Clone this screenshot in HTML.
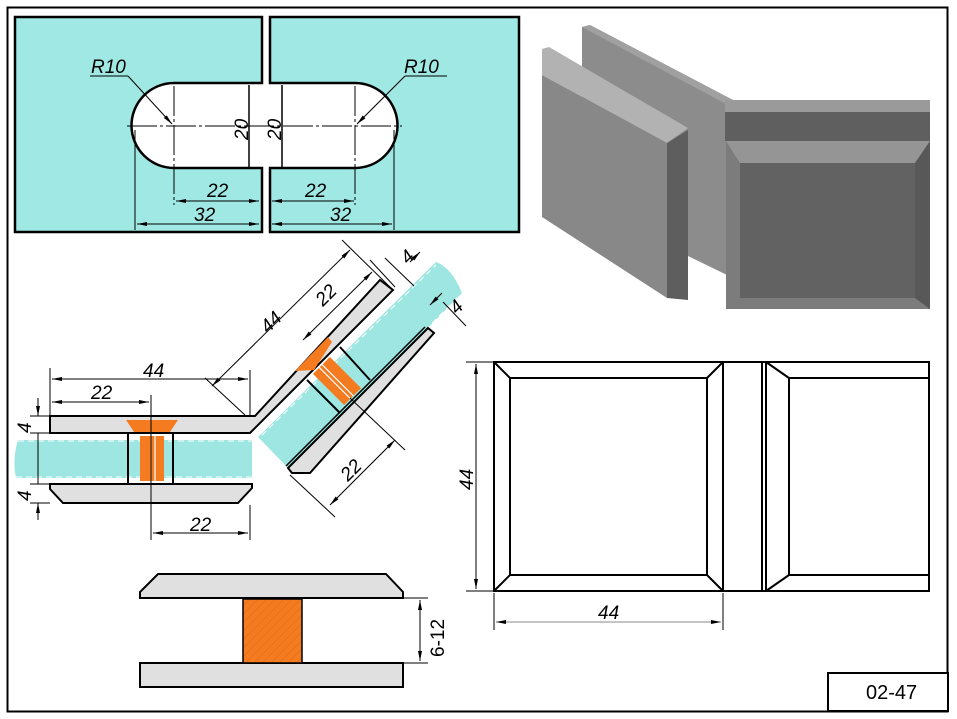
<!DOCTYPE html>
<html><head><meta charset="utf-8"><style>
html,body{margin:0;padding:0;background:#fff;}
svg{display:block;}
text{font-family:"Liberation Sans",Arial,sans-serif;fill:#000;}
</style></head><body>
<svg width="957" height="719" viewBox="0 0 957 719" xmlns="http://www.w3.org/2000/svg">
<defs>
<marker id="a" viewBox="0 0 10 4" refX="10" refY="2" markerWidth="10" markerHeight="4" orient="auto-start-reverse" markerUnits="userSpaceOnUse"><path d="M0,0 L10,2 L0,4z" fill="#000"/></marker>
<pattern id="h" width="6" height="6" patternUnits="userSpaceOnUse" patternTransform="rotate(45)"><rect width="6" height="6" fill="#f47b20"/><line x1="0" y1="0" x2="0" y2="6" stroke="#d86a18" stroke-width="1"/></pattern>
</defs>
<rect x="0" y="0" width="957" height="719" fill="#fff"/>
<rect x="7.5" y="7.5" width="940" height="704" fill="none" stroke="#000" stroke-width="2"/>

<!-- Top panels -->
<path d="M15,17 H262 V83 H174 A42.5,42.5 0 0 0 174,168 H262 V232 H15Z" fill="#a0e8e3" stroke="#000" stroke-width="2.5"/>
<path d="M270,17 H519 V232 H270 V168 H355 A42.5,42.5 0 0 0 355,83 H270Z" fill="#a0e8e3" stroke="#000" stroke-width="2.5"/>
<g stroke="#000" stroke-width="1" fill="none">
<line x1="127" y1="126" x2="402" y2="126" stroke-dasharray="30,3,3,3"/>
<line x1="174" y1="86" x2="174" y2="205" stroke-dasharray="30,3,3,3"/>
<line x1="355" y1="86" x2="355" y2="205" stroke-dasharray="30,3,3,3"/>
<line x1="249" y1="85" x2="249" y2="167" stroke-width="1.5"/>
<line x1="282" y1="85" x2="282" y2="167" stroke-width="1.5"/>
<line x1="135" y1="130" x2="135" y2="230"/>
<line x1="394" y1="130" x2="394" y2="230"/>
<line x1="176" y1="201" x2="259" y2="201" marker-start="url(#a)" marker-end="url(#a)"/>
<line x1="272" y1="201" x2="354" y2="201" marker-start="url(#a)" marker-end="url(#a)"/>
<line x1="137" y1="224" x2="259" y2="224" marker-start="url(#a)" marker-end="url(#a)"/>
<line x1="272" y1="224" x2="392" y2="224" marker-start="url(#a)" marker-end="url(#a)"/>
<line x1="90" y1="76" x2="128" y2="76"/><line x1="128" y1="76" x2="172" y2="124" marker-end="url(#a)"/>
<line x1="405" y1="76" x2="447" y2="76"/><line x1="405" y1="76" x2="357" y2="124" marker-end="url(#a)"/>
</g>
<text x="91" y="73" font-size="19" font-style="italic">R10</text>
<text x="404" y="73" font-size="19" font-style="italic">R10</text>
<text x="207" y="197" font-size="19" font-style="italic">22</text>
<text x="305" y="197" font-size="19" font-style="italic">22</text>
<text x="194" y="221" font-size="19" font-style="italic">32</text>
<text x="330" y="221" font-size="19" font-style="italic">32</text>
<text transform="translate(248,140) rotate(-90)" font-size="19" font-style="italic">20</text>
<text transform="translate(281,140) rotate(-90)" font-size="19" font-style="italic">20</text>

<!-- 3D view -->
<polygon points="582,27 590,25 733,100 727,275 688,256 582,200" fill="#8c8c8c"/>
<polygon points="582,27 590,25 733,100 726,104" fill="#a0a0a0"/>
<polygon points="542,49 549,47 688,128 667,143 542,75" fill="#b2b2b2"/>
<polygon points="542,75 667,143 667,298 542,217" fill="#888"/>
<polygon points="667,143 688,130 688,300 667,298" fill="#5e5e5e"/>
<rect x="725" y="100" width="205" height="12" fill="#9a9a9a"/>
<rect x="725" y="112" width="205" height="29" fill="#5f5f5f"/>
<rect x="726" y="141" width="204" height="168" fill="#7c7c7c"/>
<polygon points="726,141 930,141 915,163 740,163" fill="#959595"/>
<polygon points="930,141 930,309 915,298 915,163" fill="#585858"/>
<rect x="740" y="163" width="175" height="135" fill="#626262"/>

<!-- Front view -->
<g fill="none" stroke="#000" stroke-width="2">
<rect x="494" y="362" width="229" height="229"/>
<rect x="510" y="378" width="197" height="197"/>
<path d="M494,362 L510,378 M723,362 L707,378 M494,591 L510,575 M723,591 L707,575"/>
<line x1="762" y1="362" x2="762" y2="591"/>
<path d="M766,362 H929 V591 H766Z"/>
<path d="M789,378 H929 M789,575 H929 M789,378 V575 M766,362 L789,378 M766,591 L789,575"/>
<line x1="723" y1="362" x2="766" y2="362"/><line x1="723" y1="591" x2="766" y2="591"/>
</g>
<g stroke="#000" stroke-width="1">
<line x1="466" y1="362" x2="494" y2="362"/><line x1="466" y1="591" x2="494" y2="591"/>
<line x1="476" y1="364" x2="476" y2="589" marker-start="url(#a)" marker-end="url(#a)"/>
<line x1="494" y1="593" x2="494" y2="630"/><line x1="723" y1="593" x2="723" y2="630"/>
<line x1="496" y1="622" x2="721" y2="622" marker-start="url(#a)" marker-end="url(#a)" stroke="#888"/>
</g>
<text x="598" y="619" font-size="19" font-style="italic">44</text>
<text transform="translate(473,490) rotate(-90)" font-size="19" font-style="italic">44</text>

<!-- Title box -->
<rect x="828" y="673" width="120" height="38" fill="#fff" stroke="#000" stroke-width="2"/>
<text x="866" y="699" font-size="20">02-47</text>

<!-- Bottom section -->
<polygon points="158,574 386,574 403,592 403,598 140,598 140,592" fill="#e0e0e0" stroke="#000" stroke-width="2"/>
<rect x="140" y="663" width="263" height="24" fill="#e0e0e0" stroke="#000" stroke-width="2"/>
<rect x="243" y="599" width="59" height="64" fill="url(#h)" stroke="#000" stroke-width="1.5"/>
<g stroke="#000" stroke-width="1">
<line x1="403" y1="598" x2="428" y2="598"/><line x1="403" y1="663" x2="428" y2="663"/>
<line x1="420" y1="600" x2="420" y2="661" marker-start="url(#a)" marker-end="url(#a)"/>
</g>
<text transform="translate(444,657) rotate(-90)" font-size="19">6-12</text>

<!-- Horizontal section -->
<path d="M18,440 H252 V478 H16 Q12,460 18,440Z" fill="#9ee6e1"/>
<g stroke="#fff" stroke-width="1" stroke-dasharray="6,4" fill="none">
<line x1="18" y1="441" x2="252" y2="441"/><line x1="16" y1="477" x2="252" y2="477"/>
</g>
<polygon points="50,416 255,416 380,280 393,290 250,433 50,433" fill="#e0e0e0" stroke="#000" stroke-width="2"/>
<polygon points="50,484 252,484 252,488 238,503 63,503 50,489" fill="#e0e0e0" stroke="#000" stroke-width="2"/>
<polygon points="126,420 178,420 170,432 134,432" fill="#f47b20"/>
<rect x="140" y="436" width="24" height="45" fill="#f47b20"/>
<g stroke="#fff" stroke-width="1.2"><line x1="151" y1="436" x2="151" y2="482"/><line x1="155" y1="436" x2="155" y2="482"/></g>
<g stroke="#000" stroke-width="2"><line x1="128" y1="434" x2="128" y2="484"/><line x1="173" y1="434" x2="173" y2="484"/></g>
<g stroke="#000" stroke-width="1" fill="none">
<line x1="151" y1="395" x2="151" y2="540"/>
<line x1="50" y1="368" x2="50" y2="416"/><line x1="250" y1="370" x2="250" y2="416"/>
<line x1="52" y1="379" x2="248" y2="379" marker-start="url(#a)" marker-end="url(#a)"/>
<line x1="52" y1="402" x2="149" y2="402" marker-start="url(#a)" marker-end="url(#a)"/>
<line x1="30" y1="416" x2="50" y2="416"/><line x1="30" y1="433" x2="50" y2="433"/>
<line x1="30" y1="484" x2="50" y2="484"/><line x1="30" y1="503" x2="50" y2="503"/>
<line x1="38" y1="398" x2="38" y2="416" marker-end="url(#a)"/>
<line x1="38" y1="433" x2="38" y2="484"/>
<line x1="38" y1="520" x2="38" y2="503" marker-end="url(#a)"/>
<line x1="250" y1="505" x2="250" y2="540"/>
<line x1="153" y1="533" x2="248" y2="533" marker-start="url(#a)" marker-end="url(#a)"/>
</g>
<text x="143" y="377" font-size="19" font-style="italic">44</text>
<text x="91" y="399" font-size="19" font-style="italic">22</text>
<text x="190" y="531" font-size="19" font-style="italic">22</text>
<text transform="translate(31,433) rotate(-90)" font-size="19" font-style="italic">4</text>
<text transform="translate(31,501) rotate(-90)" font-size="19" font-style="italic">4</text>

<!-- Angled section -->
<path d="M258,437 L436,262 Q452,268 462,293 L290,470Z" fill="#9ee6e1"/>
<g stroke="#fff" stroke-width="1" stroke-dasharray="6,4" fill="none">
<line x1="262" y1="435" x2="436" y2="265"/><line x1="292" y1="466" x2="458" y2="297"/>
</g>
<polygon points="288,468 428,328 434,333 310,473 292,473" fill="#e0e0e0" stroke="#000" stroke-width="2"/>
<line x1="286" y1="466" x2="425" y2="327" stroke="#000" stroke-width="1.5"/>
<polygon points="295,371 314,370 332,342 328,337" fill="#f47b20"/>
<g transform="translate(337,381) rotate(45)">
<rect x="-22" y="-12" width="44" height="24" fill="#f47b20"/>
<line x1="-22" y1="-1" x2="22" y2="-1" stroke="#fff" stroke-width="1.2"/>
<line x1="-22" y1="3" x2="22" y2="3" stroke="#fff" stroke-width="1.2"/>
</g>
<g stroke="#000" stroke-width="2"><line x1="307" y1="380" x2="340" y2="413"/><line x1="340" y1="347" x2="370" y2="380"/></g>
<g stroke="#000" stroke-width="1" fill="none">
<line x1="245" y1="415" x2="205" y2="378"/>
<line x1="393" y1="290" x2="342" y2="240"/>
<line x1="212" y1="386" x2="350" y2="250" marker-start="url(#a)" marker-end="url(#a)"/>
<line x1="303" y1="340" x2="372" y2="272" marker-start="url(#a)" marker-end="url(#a)"/>
<line x1="395" y1="287" x2="370" y2="260"/>
<line x1="385" y1="258" x2="414" y2="286"/>
<line x1="410" y1="262" x2="420" y2="252" marker-end="url(#a)"/>
<line x1="443" y1="302" x2="466" y2="326"/>
<line x1="430" y1="305" x2="442" y2="293" marker-start="url(#a)"/>
<line x1="290" y1="475" x2="335" y2="517"/>
<line x1="350" y1="398" x2="405" y2="450"/>
<line x1="330" y1="505" x2="395" y2="440" marker-start="url(#a)" marker-end="url(#a)"/>
</g>
<text transform="translate(268,334) rotate(-45)" font-size="19" font-style="italic">44</text>
<text transform="translate(323,307) rotate(-45)" font-size="19" font-style="italic">22</text>
<text transform="translate(348,482) rotate(-45)" font-size="19" font-style="italic">22</text>
<text transform="translate(408,265) rotate(-45)" font-size="19" font-style="italic">4</text>
<text transform="translate(457,315) rotate(-45)" font-size="19" font-style="italic">4</text>
</svg>
</body></html>
